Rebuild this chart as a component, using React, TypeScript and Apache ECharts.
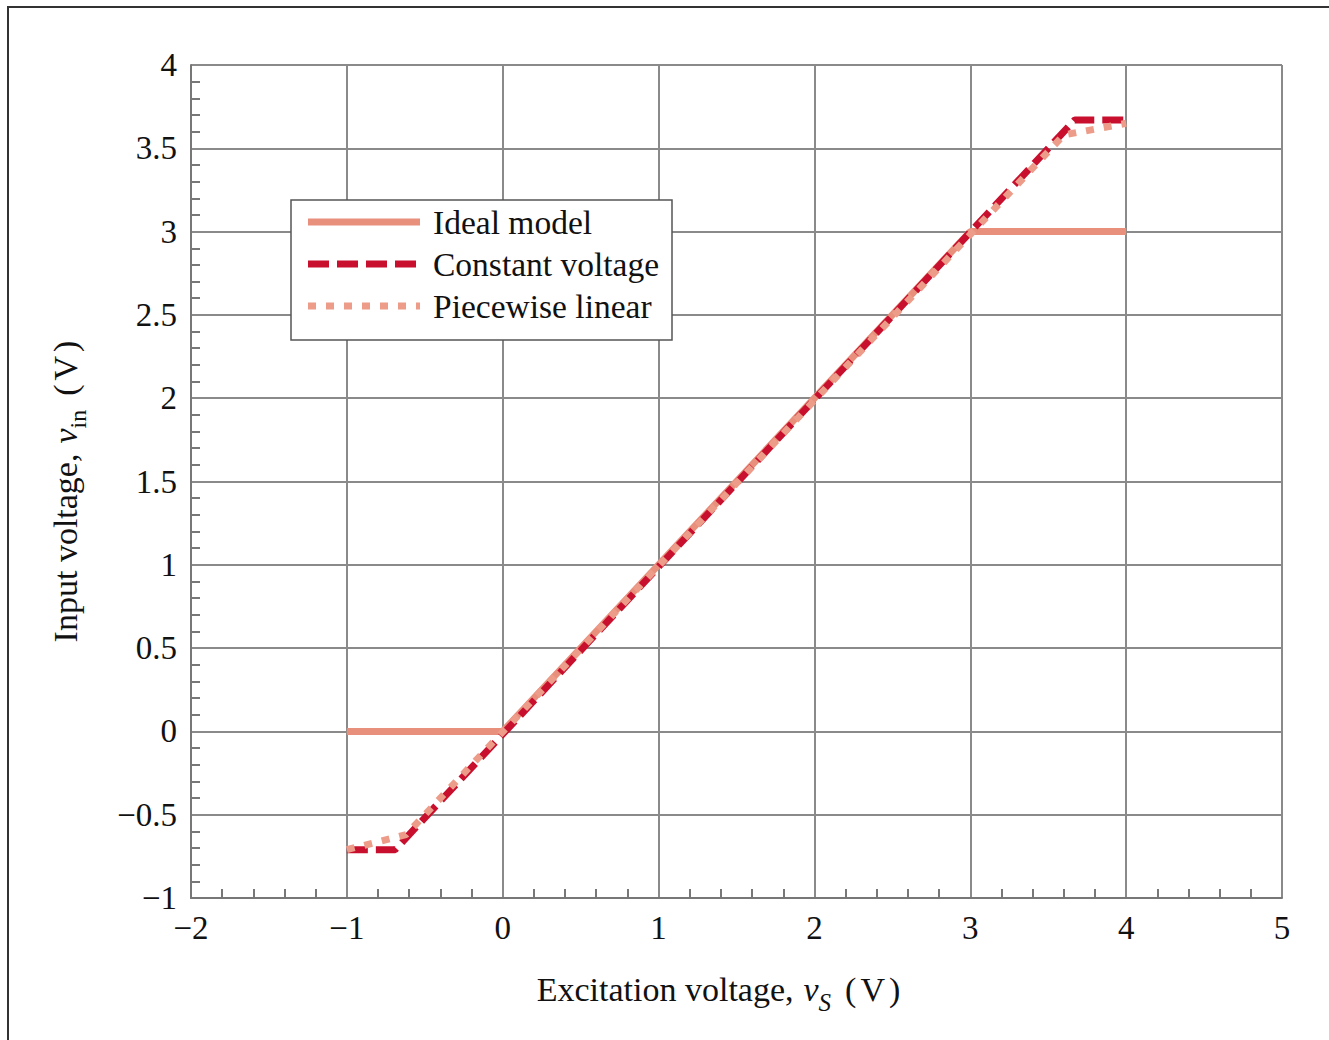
import React, { useEffect, useRef } from "react";
import * as echarts from "echarts";

const xMin = -2;
const xMax = 5;
const yMin = -1;
const yMax = 4;

const idealModel: number[][] = [[-1, 0], [0, 0], [3, 3], [4, 3]];
const constantVoltage: number[][] = [[-1, -0.71], [-0.69, -0.71], [3.67, 3.67], [4, 3.67]];
const piecewiseLinear: number[][] = [[-1, -0.71], [-0.62, -0.62], [3.6, 3.58], [4, 3.65]];

const seriesNames = ["Ideal model", "Constant voltage", "Piecewise linear"];
const colors = ["#E8907C", "#C8102E", "#EC9C88"];

const FONT = "'Liberation Serif', 'DejaVu Serif', serif";

const fmt = (v: number) => (v < 0 ? "\u2212" + String(Math.abs(v)) : String(v));

export default function App() {
  const ref = useRef<HTMLDivElement>(null);
  useEffect(() => {
    if (!ref.current) return;
    const chart = echarts.init(ref.current, undefined, { renderer: "svg" });
    const gridColor = "#8a8a8a";
    const base = { fontFamily: FONT, fontSize: 34, color: "#111", verticalAlign: "top", lineHeight: 36 };
    const rich = {
      n: { ...base },
      i: { ...base, fontStyle: "italic", padding: [0, 0, 0, 10] },
      si: { ...base, fontSize: 25, lineHeight: 24, fontStyle: "italic", padding: [18, 14, 0, 0] },
      s: { ...base, fontSize: 24, lineHeight: 24, padding: [18, 14, 0, 0] },
      pv: { ...base, padding: [0, 4, 0, 4] },
      ex: { ...base, padding: [0, 36, 0, 0] },
      ey: { ...base, padding: [0, 20, 0, 0] },
    };
    const legendY = [222, 264, 306];
    const legendDash: any[] = [null, [21, 8], [8, 10]];
    const legendGraphics: any[] = [
      {
        type: "rect",
        z: 100,
        shape: { x: 291, y: 200, width: 381, height: 140 },
        style: { fill: "#fff", stroke: "#555", lineWidth: 1.5 },
      },
    ];
    seriesNames.forEach((nm, k) => {
      legendGraphics.push({
        type: "line",
        z: 101,
        shape: { x1: 308, y1: legendY[k], x2: 420, y2: legendY[k] },
        style: { stroke: colors[k], lineWidth: 7, lineDash: legendDash[k] || undefined, lineCap: "butt" },
      });
      legendGraphics.push({
        type: "text",
        z: 101,
        x: 433,
        y: legendY[k],
        style: { text: nm, fontFamily: FONT, fontSize: 33.5, fill: "#111", verticalAlign: "middle", align: "left" },
      });
    });
    const option: any = {
      animation: false,
      backgroundColor: "#fff",
      grid: { left: 191, right: 47, top: 65, bottom: 142, containLabel: false },
      xAxis: {
        type: "value",
        min: xMin,
        max: xMax,
        interval: 1,
        name: "{n|Excitation voltage,}{i|v}{si|S}{n|(}{pv|V}{ex|)}",
        nameLocation: "middle",
        nameGap: 74,
        nameTextStyle: { rich, fontFamily: FONT, fontSize: 34 },
        axisLine: { show: true, onZero: false, lineStyle: { color: "#777", width: 2 } },
        axisTick: { show: false, inside: true },
        minorTick: { show: true, splitNumber: 5, length: 9, lineStyle: { color: "#777", width: 2 } },
        splitLine: { show: true, lineStyle: { color: gridColor, width: 2 } },
        axisLabel: { formatter: fmt, fontFamily: FONT, fontSize: 33, color: "#111", margin: 13 },
      },
      yAxis: {
        type: "value",
        min: yMin,
        max: yMax,
        interval: 0.5,
        name: "{n|Input voltage,}{i|v}{s|in}{n|(}{pv|V}{ey|)}",
        nameLocation: "middle",
        nameGap: 107,
        nameTextStyle: { rich, fontFamily: FONT, fontSize: 34 },
        axisLine: { show: true, onZero: false, lineStyle: { color: "#777", width: 2 } },
        axisTick: { show: false, inside: true },
        minorTick: { show: true, splitNumber: 5, length: 9, lineStyle: { color: "#777", width: 2 } },
        splitLine: { show: true, lineStyle: { color: gridColor, width: 2 } },
        axisLabel: { formatter: fmt, fontFamily: FONT, fontSize: 33, color: "#111", margin: 14 },
      },
      graphic: [
        {
          type: "rect",
          z: -10,
          silent: true,
          shape: { x: 8, y: 7, width: 1400, height: 1100 },
          style: { fill: "none", stroke: "#333", lineWidth: 2 },
        },
        ...legendGraphics,
      ],
      series: [
        {
          name: seriesNames[0],
          type: "line",
          data: idealModel,
          showSymbol: false,
          lineStyle: { color: colors[0], width: 7, type: "solid", cap: "butt" },
          z: 2,
        },
        {
          name: seriesNames[1],
          type: "line",
          data: constantVoltage,
          showSymbol: false,
          lineStyle: { color: colors[1], width: 7, type: [21, 8], cap: "butt" },
          z: 3,
        },
        {
          name: seriesNames[2],
          type: "line",
          data: piecewiseLinear,
          showSymbol: false,
          lineStyle: { color: colors[2], width: 7, type: [8, 10], cap: "butt" },
          z: 4,
        },
      ],
    };
    chart.setOption(option);
    return () => chart.dispose();
  }, []);
  return (
    <div
      ref={ref}
      style={{ position: "absolute", left: 0, top: 0, width: 1329, height: 1040, background: "#fff" }}
    />
  );
}
